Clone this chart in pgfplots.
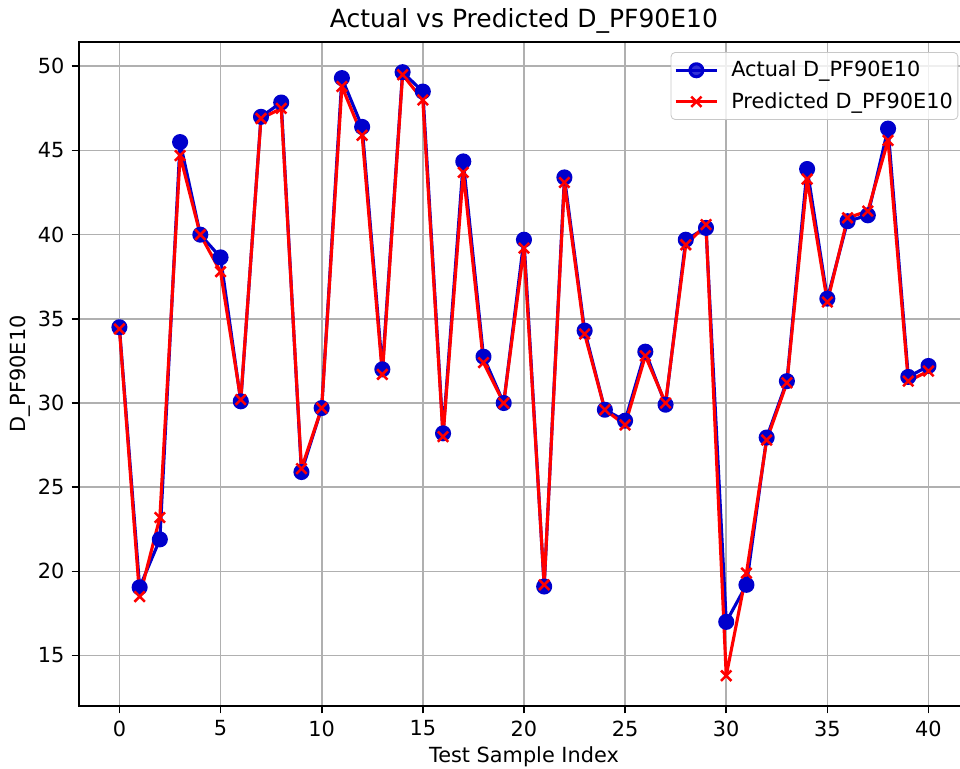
\documentclass[border=0pt]{standalone}
\usepackage{fontspec}
\setmainfont{DejaVu Sans}
\usepackage{pgfplots}
\usepackage{pgfplotstable}
\pgfplotsset{compat=1.18}
\definecolor{actual}{HTML}{0000CC}
\definecolor{pred}{HTML}{FF0000}
\definecolor{gridgray}{HTML}{B0B0B0}

\pgfplotstableread{
idx actual pred
0  34.5  34.4
1  19.05 18.5
2  21.9  23.2
3  45.5  44.7
4  40.0  40.0
5  38.65 37.8
6  30.1  30.2
7  47.0  46.9
8  47.85 47.5
9  25.9  26.1
10 29.7  29.7
11 49.3  48.8
12 46.4  45.9
13 32.0  31.7
14 49.65 49.5
15 48.5  48.0
16 28.2  28.0
17 44.35 43.7
18 32.75 32.4
19 30.0  30.0
20 39.7  39.2
21 19.1  19.2
22 43.4  43.1
23 34.3  34.1
24 29.6  29.6
25 28.95 28.7
26 33.05 32.8
27 29.9  30.0
28 39.7  39.4
29 40.4  40.6
30 17.0  13.8
31 19.2  19.9
32 27.95 27.8
33 31.3  31.2
34 43.9  43.3
35 36.2  36.0
36 40.8  41.0
37 41.15 41.4
38 46.3  45.6
39 31.55 31.3
40 32.2  31.9
}\datatable

\begin{document}
\fontsize{10}{12}\selectfont
\begin{tikzpicture}
\begin{axis}[
  scale only axis, width=427.2pt, height=318.7pt,
  xmin=-2, xmax=42, ymin=12.0, ymax=51.44,
  xtick={0,5,...,40}, ytick={15,20,...,50},
  grid=major, grid style={color=gridgray, line width=0.8pt},
  axis line style={line width=0.8pt},
  tick align=outside, tick pos=left, major tick length=3.5pt,
  tick style={black, line width=0.8pt},
  /pgf/number format/assume math mode=true,
  tick label style={font=\fontsize{10}{12}\selectfont},
  label style={font=\fontsize{10}{12}\selectfont},
  every axis title shift=0pt,
  title={Actual vs Predicted D\_PF90E10},
  title style={font=\fontsize{12}{14}\selectfont, at={(axis description cs:0.5,1)},
    anchor=base, yshift=7.2pt},
  xlabel={Test Sample Index}, ylabel={D\_PF90E10},
  xlabel style={at={(axis description cs:0.5,0)}, anchor=center, yshift=-24.5pt},
  ylabel style={at={(axis description cs:-0.0662,0.5)}, anchor=center},
  legend cell align=left,
  legend image code/.code={
    \draw[mark repeat=2, mark phase=2] plot coordinates {(0pt,0pt) (10pt,0pt) (20pt,0pt)};},
  legend style={at={(0.988,0.985)}, anchor=north east, draw=gridgray!70,
    rounded corners=2pt, fill=white, fill opacity=0.8, text opacity=1,
    font=\fontsize{10}{12}\selectfont, row sep=2pt, inner xsep=1.4pt, inner ysep=2pt,
    nodes={inner xsep=1pt}},
]
\addplot[actual, line width=1.5pt, line join=round, mark=*, mark size=3.1pt,
  mark options={solid, fill=actual, draw=actual}] table[x=idx, y=actual] {\datatable};
\addlegendentry{\hspace{5pt}Actual D\_PF90E10}
\addplot[pred, line width=1.5pt, line join=round, mark=x, mark size=3.5pt,
  mark options={solid, line width=1.2pt}] table[x=idx, y=pred] {\datatable};
\addlegendentry{\hspace{5pt}Predicted D\_PF90E10}
\coordinate (sw) at (rel axis cs:0,0);
\coordinate (ne) at (rel axis cs:1,1);
\end{axis}
\pgfresetboundingbox
\useasboundingbox ([xshift=-37.9pt,yshift=-30.2pt]sw) rectangle ([xshift=422.9pt,yshift=20.2pt]sw |- ne);
\end{tikzpicture}
\end{document}
